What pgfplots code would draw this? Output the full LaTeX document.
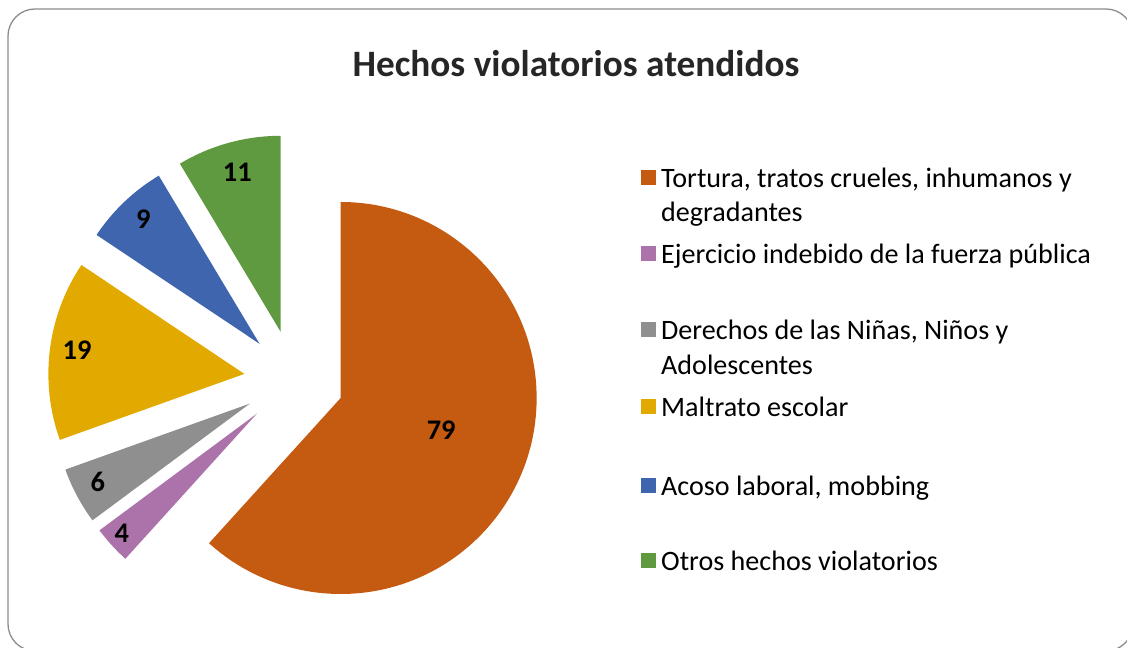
\documentclass[border=0pt]{standalone}
\usepackage{pgfplots}
\pgfplotsset{compat=1.18}
\usepackage{pgfplotstable}
\usepackage{fontspec}
\setmainfont{Carlito}

\definecolor{pc0}{HTML}{C55A11}
\definecolor{pc1}{HTML}{AC73AB}
\definecolor{pc2}{HTML}{8F8F8F}
\definecolor{pc3}{HTML}{E2AA00}
\definecolor{pc4}{HTML}{3F65AE}
\definecolor{pc5}{HTML}{5F9940}
\definecolor{framegray}{HTML}{8C8C8C}
\definecolor{titlecol}{HTML}{262626}

% value, label distance (fraction of radius from slice apex), label vertical nudge
\pgfplotstableread{
value dist dy
79 0.55 7
4 0.93 3
6 0.88 3
19 0.86 3
9 0.86 3
11 0.83 3
}\piedata

\def\pcx{294}\def\pcy{268}\def\pR{196}\def\pex{50}

% total
\xdef\ptotal{0}
\foreach \i in {0,...,5}{%
  \pgfplotstablegetelem{\i}{value}\of\piedata
  \pgfmathsetmacro\tmpsum{\ptotal+\pgfplotsretval}%
  \xdef\ptotal{\tmpsum}%
}
\xdef\pcum{90}
\foreach \i in {0,...,5}{%
  \pgfplotstablegetelem{\i}{value}\of\piedata
  \let\pval\pgfplotsretval
  \pgfmathtruncatemacro\pvalint{\pval}%
  \pgfmathsetmacro\pspn{360*(\pval/\ptotal)}%
  \pgfmathsetmacro\pst{\pcum}%
  \pgfmathsetmacro\pen{\pcum-\pspn}%
  \pgfmathsetmacro\pmd{(\pst+\pen)/2}%
  \pgfmathsetmacro\pax{\pcx+\pex*cos(\pmd)}%
  \pgfmathsetmacro\pay{\pcy+\pex*sin(\pmd)}%
  \pgfplotstablegetelem{\i}{dist}\of\piedata
  \let\pdist\pgfplotsretval
  \pgfplotstablegetelem{\i}{dy}\of\piedata
  \let\pdy\pgfplotsretval
  \pgfmathsetmacro\plx{\pax+\pdist*\pR*cos(\pmd)}%
  \pgfmathsetmacro\ply{\pay+\pdist*\pR*sin(\pmd)+\pdy}%
  \expandafter\xdef\csname pst\i\endcsname{\pst}%
  \expandafter\xdef\csname pen\i\endcsname{\pen}%
  \expandafter\xdef\csname pax\i\endcsname{\pax}%
  \expandafter\xdef\csname pay\i\endcsname{\pay}%
  \expandafter\xdef\csname plx\i\endcsname{\plx}%
  \expandafter\xdef\csname ply\i\endcsname{\ply}%
  \expandafter\xdef\csname pv\i\endcsname{\pvalint}%
  \xdef\pcum{\pen}%
}

\begin{document}
\begin{tikzpicture}
\useasboundingbox (0,0) rectangle (1127bp,648bp);
\begin{axis}[
  scale only axis, width=1127bp, height=648bp,
  xmin=0, xmax=1127, ymin=0, ymax=648,
  hide axis, clip=false,
]
% frame
\draw[framegray, line width=1.3bp, rounded corners=27bp] (axis cs:8,-3) rectangle (axis cs:1133,639);
% title
\node[anchor=base, text=titlecol, inner sep=0pt, font=\bfseries\fontsize{37.4}{44}\selectfont] at (axis cs:576,571) {Hechos violatorios atendidos};
% slices
\pgfplotsinvokeforeach{0,...,5}{%
  \edef\tmpcmd{\noexpand\fill[pc#1] (axis cs:\csname pax#1\endcsname,\csname pay#1\endcsname) -- ++(\csname pst#1\endcsname:\pR bp) arc[start angle=\csname pst#1\endcsname, end angle=\csname pen#1\endcsname, radius=\pR bp] -- cycle;}%
  \tmpcmd
  \edef\tmpcmd{\noexpand\node[font=\noexpand\bfseries\noexpand\fontsize{28.5}{32}\noexpand\selectfont, text=black] at (axis cs:\csname plx#1\endcsname,\csname ply#1\endcsname) {\csname pv#1\endcsname};}%
  \tmpcmd
}
% legend
\def\legsq#1#2{\fill[#1] (axis cs:641,{648-#2-7.5}) rectangle (axis cs:656,{648-#2+7.5});}
\legsq{pc0}{178}\legsq{pc1}{254}\legsq{pc2}{330}\legsq{pc3}{407}\legsq{pc4}{486}\legsq{pc5}{561}
\tikzset{legtxt/.style={anchor=base west, inner sep=0pt, font=\fontsize{28.2}{34}\selectfont, text=black}}
\node[legtxt] at (axis cs:661,{648-178-9.5}) {Tortura, tratos crueles, inhumanos y};
\node[legtxt] at (axis cs:661,{648-212-9.5}) {degradantes};
\node[legtxt] at (axis cs:661,{648-254-9.5}) {Ejercicio indebido de la fuerza pública};
\node[legtxt] at (axis cs:661,{648-330-9.5}) {Derechos de las Niñas, Niños y};
\node[legtxt] at (axis cs:661,{648-365-9.5}) {Adolescentes};
\node[legtxt] at (axis cs:661,{648-407-9.5}) {Maltrato escolar};
\node[legtxt] at (axis cs:661,{648-486-9.5}) {Acoso laboral, mobbing};
\node[legtxt] at (axis cs:661,{648-561-9.5}) {Otros hechos violatorios};
\end{axis}
\end{tikzpicture}
\end{document}
